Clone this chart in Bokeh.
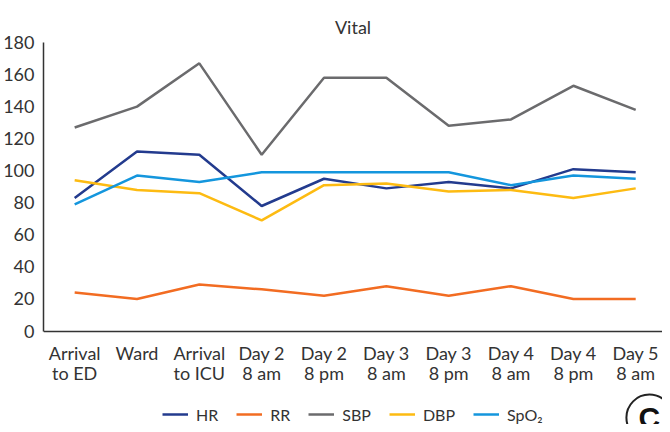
from bokeh.plotting import figure
from bokeh.models import FixedTicker, Legend, LegendItem, Label, Range1d
from bokeh.embed import file_html
from bokeh.resources import INLINE

categories = ["Arrival\nto ED", "Ward", "Arrival\nto ICU", "Day 2\n8 am", "Day 2\n8 pm",
              "Day 3\n8 am", "Day 3\n8 pm", "Day 4\n8 am", "Day 4\n8 pm", "Day 5\n8 am"]
hr = [83, 112, 110, 78, 95, 89, 93, 89, 101, 99]
rr = [24, 20, 29, 26, 22, 28, 22, 28, 20, 20]
sbp = [127, 140, 167, 110, 158, 158, 128, 132, 153, 138]
dbp = [94, 88, 86, 69, 91, 92, 87, 88, 83, 89]
spo2 = [79, 97, 93, 99, 99, 99, 99, 91, 97, 95]
y_ticks = [0, 20, 40, 60, 80, 100, 120, 140, 160, 180]

series = [("HR", hr, "#233b8e"), ("RR", rr, "#f26c22"), ("SBP", sbp, "#6b6b6d"),
          ("DBP", dbp, "#fdbb12"), ("SpO₂", spo2, "#1496dd")]

FONT = "Lato"
xs = list(range(len(categories)))
BADGE_X, BADGE_Y = 9.22, -54

# frame extends below the axis so the legend and badge (drawn inside the frame) are not clipped
p = figure(width=662, height=424, output_backend="svg", toolbar_location=None,
           x_range=Range1d(-0.5, 9.43), y_range=Range1d(-58.3, 180),
           min_border_left=43, min_border_right=0, min_border_top=42, min_border_bottom=0)
p.outline_line_color = None
p.xgrid.visible = False
p.ygrid.visible = False

p.title.text = "Vital"
p.title.align = "center"
p.title.text_font = FONT
p.title.text_font_style = "normal"
p.title.text_font_size = "18px"
p.title.text_color = "#333333"

items = []
for name, vals, col in series:
    r = p.line(xs, vals, line_color=col, line_width=2.5)
    items.append(LegendItem(label=name, renderers=[r]))

p.xaxis.ticker = FixedTicker(ticks=xs)
p.xaxis.major_label_overrides = {i: c for i, c in enumerate(categories)}
p.xaxis.fixed_location = 0
p.yaxis.ticker = FixedTicker(ticks=y_ticks)
p.yaxis.bounds = (0, 180)
for ax in (p.xaxis[0], p.yaxis[0]):
    ax.major_tick_line_color = None
    ax.minor_tick_line_color = None
    ax.axis_line_color = "#333333"
    ax.axis_line_width = 1.5
    ax.major_label_text_font = FONT
    ax.major_label_text_font_size = "18px"
    ax.major_label_text_color = "#333333"
p.xaxis.major_label_text_line_height = 0.9
p.xaxis.major_label_standoff = 5
p.yaxis.major_label_standoff = 3

legend = Legend(items=items, orientation="horizontal", location=(119, 0),
                label_text_font=FONT, label_text_font_size="16px", label_text_color="#333333",
                glyph_width=26, label_standoff=8, spacing=18, border_line_color=None,
                background_fill_alpha=0, padding=0, margin=0)
p.add_layout(legend, "center")

# panel badge "C" in a circle
p.scatter(x=[BADGE_X], y=[BADGE_Y], marker="circle", size=46,
          fill_color="white", line_color="#222222", line_width=2)
badge = Label(x=BADGE_X, y=BADGE_Y, text="C", text_align="center", text_baseline="middle",
              text_font="Liberation Sans", text_font_style="bold", text_font_size="30px",
              text_color="#111111")
p.add_layout(badge)

open("out.html", "w").write(file_html(p, INLINE))
